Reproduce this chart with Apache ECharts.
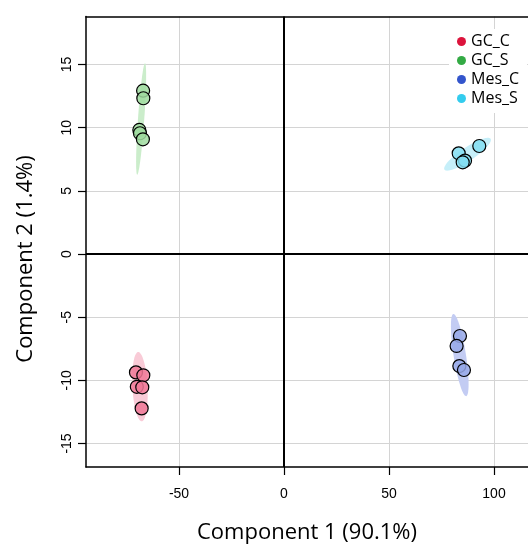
<!DOCTYPE html>
<html>
<head>
<meta charset="utf-8">
<script src="https://cdn.jsdelivr.net/npm/echarts@6/dist/echarts.min.js"></script>
<style>
  html, body { margin: 0; padding: 0; background: #fff; }
  #chart { width: 528px; height: 544px; }
</style>
</head>
<body>
<div id="chart"></div>
<script>
// groups and PCA scores
const groups = ["GC_C", "GC_S", "Mes_C", "Mes_S"];
const gcC = [[-70.5, -9.37], [-67.0, -9.6], [-70.1, -10.51], [-67.5, -10.55], [-67.8, -12.22]];
const gcS = [[-67.1, 12.93], [-67.0, 12.33], [-68.9, 9.82], [-68.6, 9.56], [-67.2, 9.08]];
const mesC = [[83.8, -6.49], [82.2, -7.28], [83.5, -8.87], [85.7, -9.18]];
const mesS = [[83.2, 7.97], [93.0, 8.55], [86.2, 7.39], [85.1, 7.26]];

// confidence ellipses: centre x, centre y, major half-axis (dx, dy), minor half-axis (dx, dy)
const ellipses = [
  [-68.6, -10.5, -0.81, 2.74, 3.6, 0],
  [-68.05, 10.69, 1.86, 4.41, 1.5, 0],
  [83.7, -8.0, -3.05, 3.25, 2.9, 0.08],
  [87.4, 7.9, 11.0, 1.22, 1.75, -0.45],
];

const xTicks = [-50, 0, 50, 100];
const yTicks = [-15, -10, -5, 0, 5, 10, 15];

const legendColors = ["#dc143c", "#33aa44", "#3355cc", "#33ccee"];
const pointColors = ["rgba(240,120,150,0.85)", "rgba(160,220,160,0.85)", "rgba(150,168,232,0.85)", "rgba(130,222,242,0.85)"];
const ellipseColors = ["#f9cbd7", "#cbedcb", "#c3ccf3", "#c6eff9"];

const font = "Liberation Sans";
const chart = echarts.init(document.getElementById("chart"));

const scatter = (name, data, i) => ({
  name: name,
  type: "scatter",
  data: data,
  symbolSize: 13,
  z: 5,
  itemStyle: { color: pointColors[i], borderColor: "#000", borderWidth: 1.2, opacity: 1 },
});

chart.setOption({
  animation: false,
  grid: { left: 86, top: 16.5, right: 0, bottom: 77, outerBoundsMode: "none", containLabel: false },
  legend: {
    orient: "vertical",
    left: 449,
    top: 29,
    padding: [4, 8, 6, 8],
    backgroundColor: "#fff",
    itemWidth: 9,
    itemHeight: 9,
    itemGap: 2,
    icon: "circle",
    textStyle: { fontFamily: "Open Sans", fontSize: 16, color: "#000", lineHeight: 17 },
    data: groups.map((g, i) => ({ name: g, itemStyle: { color: legendColors[i], borderWidth: 0 } })),
  },
  xAxis: [
    {
      type: "value",
      min: -94.3,
      max: 116.2,
      minInterval: 50,
      maxInterval: 50,
      name: "Component 1 (90.1%)",
      nameLocation: "middle",
      nameGap: 55,
      nameTextStyle: { fontFamily: "Open Sans", fontSize: 22, color: "#000" },
      axisLine: { show: true, onZero: false, lineStyle: { color: "#000", width: 1.5 } },
      axisTick: { show: true, length: 8, customValues: xTicks, lineStyle: { color: "#000", width: 1.2 } },
      axisLabel: { customValues: xTicks, margin: 20, fontFamily: font, fontSize: 14, color: "#000" },
      splitLine: { show: true, lineStyle: { color: "#d4d4d4", width: 1 } },
    },
    {
      type: "value",
      position: "top",
      min: -94.3,
      max: 116.2,
      axisLine: { show: true, onZero: false, lineStyle: { color: "#000", width: 1.5 } },
      axisTick: { show: false },
      axisLabel: { show: false },
      splitLine: { show: false },
    },
  ],
  yAxis: {
    type: "value",
    min: -16.86,
    max: 18.8,
    minInterval: 5,
    maxInterval: 5,
    axisLine: { show: true, onZero: false, lineStyle: { color: "#000", width: 1.5 } },
    axisTick: { show: true, length: 8, customValues: yTicks, lineStyle: { color: "#000", width: 1.2 } },
    axisLabel: { customValues: yTicks, rotate: 90, margin: 12, fontFamily: font, fontSize: 14, color: "#000" },
    splitLine: { show: true, lineStyle: { color: "#d4d4d4", width: 1 } },
  },
  graphic: [
    {
      type: "text",
      x: 26,
      y: 259,
      rotation: Math.PI / 2,
      style: {
        text: "Component 2 (1.4%)",
        font: "22px 'Open Sans'",
        fill: "#000",
        align: "center",
        verticalAlign: "middle",
      },
    },
  ],
  series: [
    {
      type: "custom",
      name: "ellipses",
      data: ellipses,
      encode: { x: 0, y: 1 },
      z: 1,
      silent: true,
      clip: true,
      renderItem: function (params, api) {
        const cx = api.value(0), cy = api.value(1);
        const ax = api.value(2), ay = api.value(3);
        const bx = api.value(4), by = api.value(5);
        const pts = [];
        for (let k = 0; k < 90; k++) {
          const t = (k / 90) * Math.PI * 2;
          pts.push(api.coord([cx + ax * Math.cos(t) + bx * Math.sin(t), cy + ay * Math.cos(t) + by * Math.sin(t)]));
        }
        return {
          type: "polygon",
          shape: { points: pts },
          style: { fill: ellipseColors[params.dataIndex] },
        };
      },
      markLine: {
        silent: true,
        symbol: ["none", "none"],
        label: { show: false },
        lineStyle: { color: "#000", width: 2, type: "solid" },
        data: [{ xAxis: 0 }, { yAxis: 0 }],
      },
    },
    scatter("GC_C", gcC, 0),
    scatter("GC_S", gcS, 1),
    scatter("Mes_C", mesC, 2),
    scatter("Mes_S", mesS, 3),
  ],
});
</script>
</body>
</html>
